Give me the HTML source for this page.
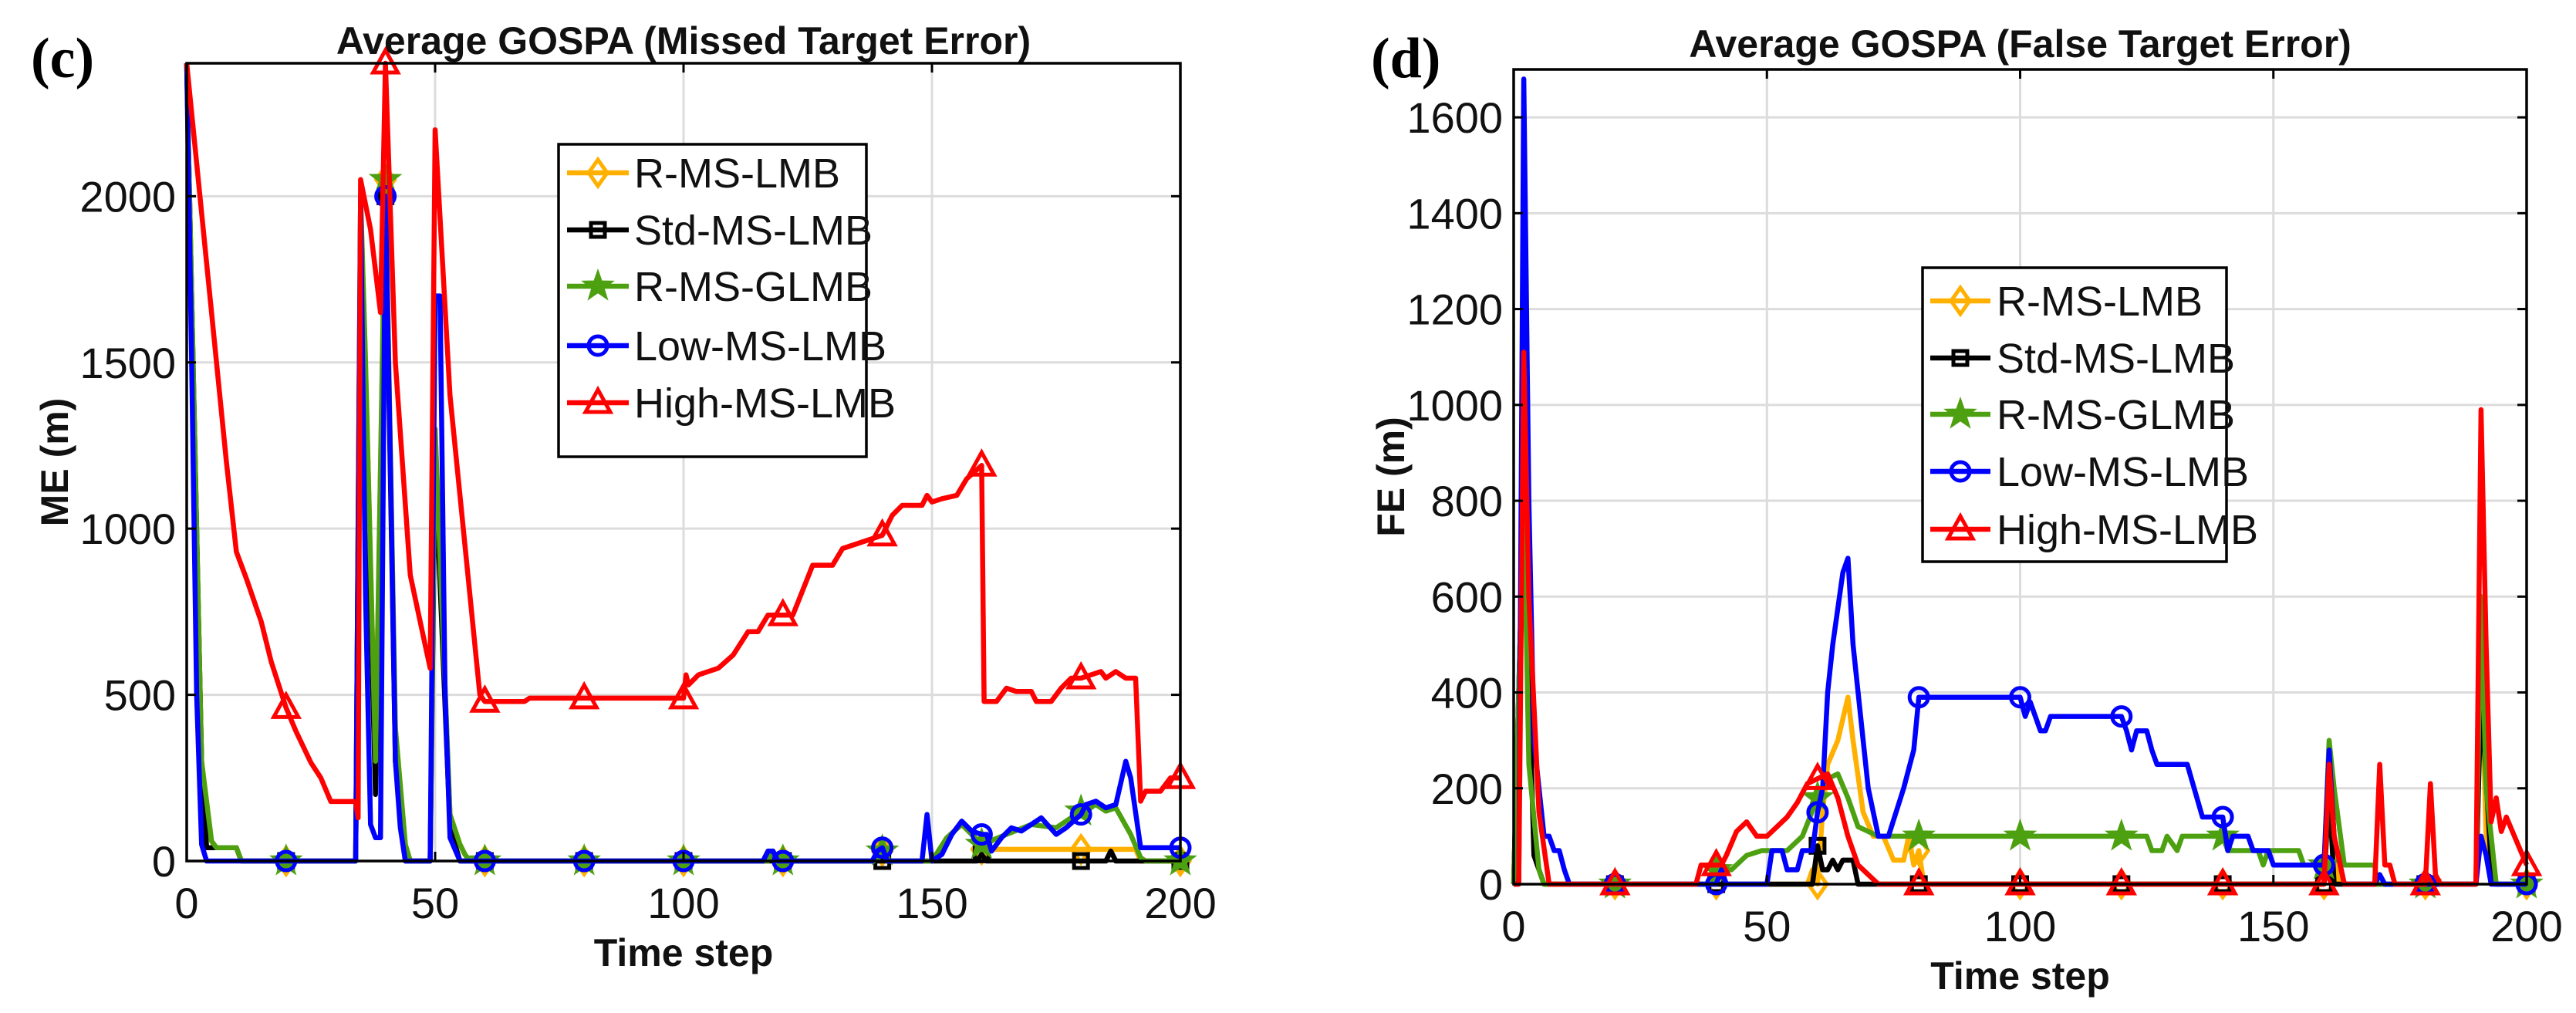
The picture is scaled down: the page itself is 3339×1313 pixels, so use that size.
<!DOCTYPE html>
<html><head><meta charset="utf-8"><style>
html,body{margin:0;padding:0;background:#fff}
svg{display:block;font-family:"Liberation Sans",Arial,sans-serif}
</style></head><body>
<svg id="fig" width="3339" height="1313" viewBox="0 0 3339 1313" xmlns="http://www.w3.org/2000/svg"></svg>
<script>
// ---------- data ----------
const seriesNames = ["R-MS-LMB","Std-MS-LMB","R-MS-GLMB","Low-MS-LMB","High-MS-LMB"];
const seriesColors = ["#FFB000","#000000","#4DA010","#0000FF","#FF0000"];
const xTicks = [0,50,100,150,200];
const meYTicks = [0,500,1000,1500,2000];
const feYTicks = [0,200,400,600,800,1000,1200,1400,1600];
const markerSteps = [20,40,60,80,100,120,140,160,180,200];

// ME (missed target error) series: [time, value]
const meOrange = [[0,2400],[3,300],[5,60],[6,40],[10,40],[11,0],[34,0],[35,2000],[36,1500],[38,300],[40,2050],[42,400],[44,50],[45,0],[49,0],[50,1300],[53,140],[55,50],[56,20],[57,0],[117,0],[118,30],[119,0],[138,0],[139,20],[140,30],[141,0],[150,0],[153,70],[156,110],[158,80],[160,35],[180,35],[191,35],[192,0],[200,0]];
const meBlack = [[0,2400],[3,300],[4,40],[10,40],[11,0],[34,0],[35,1900],[38,200],[40,2000],[42,300],[44,0],[49,0],[50,1200],[53,100],[55,0],[159,0],[160,20],[161,0],[185,0],[186,30],[187,0],[200,0]];
const meGreen = [[0,2400],[3,300],[5,60],[6,40],[10,40],[11,0],[34,0],[35,2000],[36,1500],[38,300],[40,2050],[42,400],[44,50],[45,0],[49,0],[50,1300],[53,140],[55,50],[56,20],[57,0],[117,0],[118,30],[119,0],[138,0],[139,20],[140,30],[141,0],[150,0],[153,70],[156,110],[158,80],[160,50],[165,80],[170,110],[175,100],[180,150],[183,170],[185,150],[187,160],[190,80],[192,10],[193,0],[200,0]];
const meBlue = [[0,2400],[1,1500],[2,500],[3,50],[4,0],[34,0],[35,2000],[36,800],[37,110],[38,70],[39,70],[40,2000],[41,1200],[42,300],[43,100],[44,0],[49,0],[50,1700],[51,1700],[52,500],[53,70],[55,0],[116,0],[117,30],[118,30],[119,0],[138,0],[139,30],[140,40],[141,0],[148,0],[149,140],[150,0],[152,20],[154,80],[156,120],[158,90],[160,80],[161,80],[162,30],[164,70],[166,100],[168,90],[172,130],[175,80],[177,100],[180,140],[181,170],[183,180],[185,160],[187,170],[189,300],[190,250],[192,40],[200,40]];
const meRed = [[0,2400],[5,1650],[8,1200],[10,930],[12,850],[15,720],[17,600],[20,461],[22,390],[25,296],[27,250],[29,179],[34,179],[34.5,130],[35,2050],[37,1900],[39,1650],[40,2400],[42,1500],[45,860],[48,650],[49,580],[50,2200],[53,1400],[57,800],[59,500],[60,480],[68,480],[69,490],[100,490],[100.5,560],[101,530],[103,560],[107,580],[110,620],[113,690],[115,690],[117,740],[122,740],[126,890],[130,890],[132,940],[140,980],[142,1040],[144,1070],[148,1070],[149,1100],[150,1080],[152,1090],[155,1100],[157,1150],[160,1190],[160.5,480],[163,480],[165,520],[167,510],[170,510],[171,480],[174,480],[176,520],[178,550],[180,550],[182,560],[184,570],[185,550],[187,570],[189,550],[191,550],[192,180],[193,210],[196,210],[198,250],[200,250]];

// FE (false target error) series
const feOrange = [[0,0],[2,800],[4,60],[6,0],[58,0],[59,30],[60,0],[61,150],[62,250],[64,300],[66,390],[67,300],[69,150],[71,100],[73,100],[75,50],[77,50],[78,100],[79,40],[80,70],[81,0],[160,0],[161,250],[162,50],[163,0],[190,0],[191,500],[192,100],[194,0],[200,0]];
const feBlack = [[0,0],[2,800],[4,60],[6,0],[59,0],[60,80],[61,30],[62,30],[63,50],[64,30],[65,50],[67,50],[68,0],[160,0],[161,200],[162,0],[190,0],[191,400],[193,40],[194,0],[200,0]];
const feGreen = [[0,0],[2,800],[3,250],[5,30],[6,0],[39,0],[40,30],[43,30],[46,60],[49,70],[54,70],[57,100],[60,180],[62,220],[64,230],[66,180],[68,120],[70,110],[72,100],[125,100],[126,70],[128,70],[129,100],[131,70],[132,100],[140,100],[141,70],[147,70],[148,40],[149,70],[155,70],[156,40],[160,40],[161,300],[162,200],[164,40],[170,40],[170.5,0],[190,0],[191,600],[192,200],[194,0],[200,0]];
const feBlue = [[0,0],[1,0],[2,1680],[3,800],[4,300],[6,100],[7,100],[8,70],[9,70],[10,30],[11,0],[40,0],[41,30],[42,0],[50,0],[51,70],[53,70],[54,30],[56,30],[57,70],[59,70],[60,150],[61,200],[62,400],[63,500],[65,650],[66,680],[67,500],[69,300],[70,200],[72,100],[74,100],[77,200],[79,280],[80,390],[100,390],[101,350],[102,380],[104,320],[105,320],[106,350],[120,350],[121,320],[122,280],[123,320],[125,320],[126,280],[127,250],[133,250],[136,140],[140,140],[141,70],[142,100],[145,100],[146,70],[149,70],[150,40],[160,40],[161,280],[162,100],[164,0],[170,0],[171,20],[172,0],[190,0],[191,100],[192,60],[193,0],[200,0]];
const feRed = [[0,0],[1,0],[2,1110],[3,600],[5,150],[7,0],[36,0],[37,40],[41,40],[42,60],[44,110],[46,130],[48,100],[50,100],[52,120],[54,140],[56,170],[58,210],[60,220],[62,230],[64,180],[66,100],[68,40],[70,20],[72,0],[160,0],[161,250],[162,100],[163,50],[164,0],[170,0],[171,250],[172,40],[173,40],[174,0],[180,0],[181,210],[182,20],[183,0],[190,0],[191,990],[192,500],[193,130],[194,180],[195,110],[196,140],[200,40]];

const meSeries = [meOrange, meBlack, meGreen, meBlue, meRed];
const feSeries = [feOrange, feBlack, feGreen, feBlue, feRed];

// ---------- drawing ----------
const NS = "http://www.w3.org/2000/svg";
const svg = document.getElementById("fig");
function mk(tag, attrs, parent){
  const e = document.createElementNS(NS, tag);
  for (const k in attrs) e.setAttribute(k, attrs[k]);
  (parent||svg).appendChild(e);
  return e;
}
function interp(data, t){
  for (let i=0;i<data.length-1;i++){
    const a=data[i], b=data[i+1];
    if (t>=a[0] && t<=b[0]) return b[0]===a[0]?a[1]:a[1]+(b[1]-a[1])*(t-a[0])/(b[0]-a[0]);
  }
  return data[data.length-1][1];
}
function marker(g, i, x, y, color){
  const sw = 5;
  let m;
  if (i===0) m = mk("polygon",{points:`${x},${y-17} ${x+12},${y} ${x},${y+17} ${x-12},${y}`,fill:"none",stroke:color,"stroke-width":sw},g);
  else if (i===1) m = mk("rect",{x:x-9,y:y-9,width:18,height:18,fill:"none",stroke:color,"stroke-width":sw},g);
  else if (i===2){
    let p=[];for(let k=0;k<10;k++){const r=k%2?8:20;const a=-Math.PI/2+k*Math.PI/5;p.push((x+r*Math.cos(a)).toFixed(1)+","+(y+r*Math.sin(a)).toFixed(1));}
    m = mk("polygon",{points:p.join(" "),fill:color,stroke:color,"stroke-width":2},g);
  }
  else if (i===3) m = mk("circle",{cx:x,cy:y,r:12,fill:"none",stroke:color,"stroke-width":sw},g);
  else m = mk("polygon",{points:`${x},${y-17} ${x+16},${y+12} ${x-16},${y+12}`,fill:"none",stroke:color,"stroke-width":sw},g);
  return m;
}

function drawPlot(cfg){
  const {name,L,R,T,B,ymax,yTicks,series,title,ylabel,panel,panelX,panelY,tickLabelX,titleY,ylabX,xlabY,leg} = cfg;
  const g = mk("g",{});
  
  
  const sx = t => L + (t/200)*(R-L);
  const sy = v => B - (v/ymax)*(B-T);
  const cx = (L+R)/2, cy = (T+B)/2;
  const grid = mk("g",{},g);
  
  
  xTicks.forEach(t=>mk("line",{x1:sx(t),x2:sx(t),y1:T,y2:B,stroke:"#dcdcdc","stroke-width":3},grid));
  yTicks.forEach(v=>mk("line",{x1:L,x2:R,y1:sy(v),y2:sy(v),stroke:"#dcdcdc","stroke-width":3},grid));
  series.forEach((d,i)=>{
    const sg = mk("g",{},g);
    
    
    const pts = d.map(p=>sx(p[0]).toFixed(1)+","+sy(p[1]).toFixed(1)).join(" ");
    mk("polyline",{points:pts,fill:"none",stroke:seriesColors[i],"stroke-width":6.5,"stroke-linejoin":"round"},sg);
    markerSteps.forEach(t=>{
      const m = marker(sg,i,sx(t),sy(interp(d,t)),seriesColors[i]);
      
      
    });
  });
  const ax = mk("g",{},g);
  
  
  mk("rect",{x:L,y:T,width:R-L,height:B-T,fill:"none",stroke:"#000","stroke-width":3.5},ax);
  xTicks.forEach(t=>{
    mk("line",{x1:sx(t),x2:sx(t),y1:B,y2:B-12,stroke:"#000","stroke-width":3},ax);
    mk("line",{x1:sx(t),x2:sx(t),y1:T,y2:T+12,stroke:"#000","stroke-width":3},ax);
    const tx = mk("text",{x:sx(t),y:tickLabelX,"font-size":56,"text-anchor":"middle",fill:"#111"},ax);
    tx.textContent = t;
    
    
  });
  yTicks.forEach(v=>{
    mk("line",{x1:L,x2:L+12,y1:sy(v),y2:sy(v),stroke:"#000","stroke-width":3},ax);
    mk("line",{x1:R,x2:R-12,y1:sy(v),y2:sy(v),stroke:"#000","stroke-width":3},ax);
    const tx = mk("text",{x:L-14,y:sy(v)+20,"font-size":56,"text-anchor":"end",fill:"#111"},ax);
    tx.textContent = v;
    
    
  });
  const tt = mk("text",{x:cx,y:titleY,"font-size":50,"font-weight":"bold","text-anchor":"middle",fill:"#111"},g);
  tt.textContent = title;
  
  
  const yl = mk("text",{x:ylabX,y:cy,"font-size":50,"font-weight":"bold","text-anchor":"middle",fill:"#111",transform:`rotate(-90 ${ylabX} ${cy})`},g);
  yl.textContent = ylabel;
  
  
  const xl = mk("text",{x:cx,y:xlabY,"font-size":50,"font-weight":"bold","text-anchor":"middle",fill:"#111"},g);
  xl.textContent = "Time step";
  
  
  const pl = mk("text",{x:panelX,y:panelY,"font-size":74,"font-weight":"bold","font-family":"Liberation Serif, serif",fill:"#000"},g);
  pl.textContent = panel;
  
  
  const lg = mk("g",{},g);
  
  
  mk("rect",{x:leg.x,y:leg.y,width:leg.w,height:leg.h,fill:"#fff",stroke:"#000","stroke-width":3.5},lg);
  seriesNames.forEach((n,i)=>{
    const ry = leg.rows[i];
    const e = mk("g",{},lg);
    
    
    mk("line",{x1:leg.lx1,x2:leg.lx2,y1:ry,y2:ry,stroke:seriesColors[i],"stroke-width":6.5},e);
    marker(e,i,(leg.lx1+leg.lx2)/2,ry,seriesColors[i]);
    const t = mk("text",{x:leg.tx,y:ry+19,"font-size":54,fill:"#111"},e);
    t.textContent = n;
  });
}

drawPlot({name:"me-chart",L:242,R:1530,T:82,B:1116,ymax:2400,yTicks:meYTicks,series:meSeries,
  title:"Average GOSPA (Missed Target Error)",ylabel:"ME (m)",panel:"(c)",panelX:40,panelY:100,
  tickLabelX:1190,titleY:70,ylabX:88,xlabY:1252,
  leg:{x:724,y:187,w:399,h:405,rows:[224,298,371,448,522],lx1:735,lx2:815,tx:822}});
drawPlot({name:"fe-chart",L:1962,R:3275,T:90,B:1146,ymax:1700,yTicks:feYTicks,series:feSeries,
  title:"Average GOSPA (False Target Error)",ylabel:"FE (m)",panel:"(d)",panelX:1777,panelY:100,
  tickLabelX:1220,titleY:74,ylabX:1820,xlabY:1282,
  leg:{x:2492,y:347,w:394,h:381,rows:[390,464,537,611,686],lx1:2502,lx2:2580,tx:2588}});
</script>
</body></html>
